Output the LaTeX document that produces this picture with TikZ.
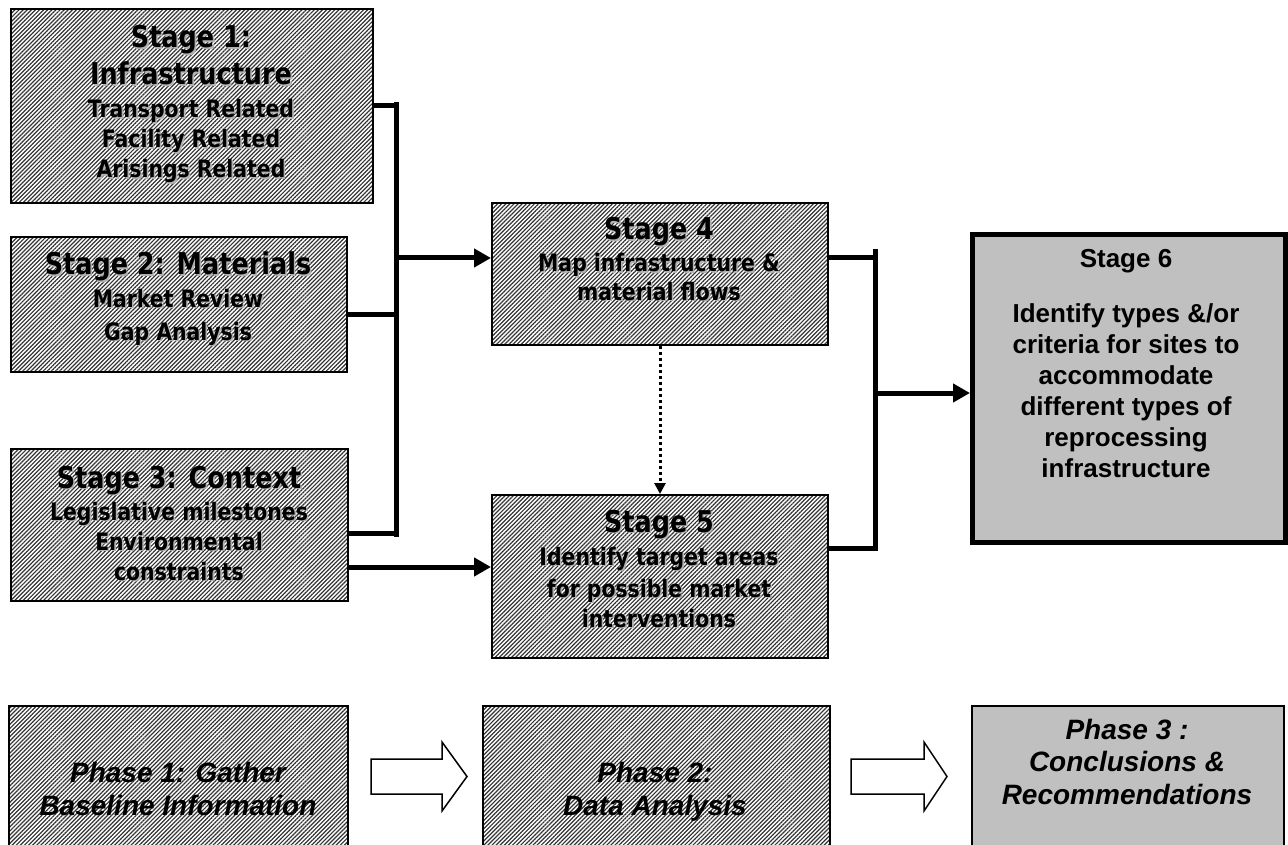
\documentclass[tikz,border=0pt]{standalone}
\usepackage{fontspec}
\setmainfont{Liberation Sans}
\newfontfamily\tah[FakeStretch=0.85]{DejaVu Sans}
\newfontfamily\ari{Liberation Sans}
\usetikzlibrary{patterns.meta,arrows.meta,calc}
\newcommand{\shd}[1]{\leavevmode\rlap{\kern1.6pt\raisebox{-1.6pt}{\color{black!30}#1}}#1}
\tikzset{
  hatchbox/.style={draw=black, line width=2pt, pattern={Lines[angle=45,distance=2.9pt,line width=1.2pt]}, pattern color=black!80, inner sep=0pt},
  graybox/.style={draw=black, line width=5pt, fill={rgb,255:red,192;green,192;blue,192}, inner sep=0pt},
  phasegray/.style={draw=black, line width=1.5pt, fill={rgb,255:red,192;green,192;blue,192}, inner sep=0pt},
  bigt/.style={anchor=base, inner sep=0pt, font=\fontsize{30}{36}\tah\bfseries},
  smt/.style={anchor=base, inner sep=0pt, font=\fontsize{24}{30}\tah\bfseries},
  arit/.style={anchor=base, inner sep=0pt, font=\fontsize{26}{31}\ari\bfseries},
  phaset/.style={anchor=base, inner sep=0pt, font=\fontsize{28}{33}\ari\bfseries\itshape},
  conn/.style={line width=5pt, line cap=butt},
  arr/.style={line width=5pt, -{Triangle[length=17pt,width=18pt]}},
  dotarr/.style={line width=3pt, dash pattern=on 3pt off 3pt, -{Triangle[length=11pt,width=11pt]}},
  hollow/.style={draw=black, line width=1.5pt, fill=white, line join=miter},
}
\begin{document}
\begin{tikzpicture}[x=1pt,y=-1pt]
\useasboundingbox (0,0) rectangle (1288,845);
\clip (0,0) rectangle (1288,845);
\fill[white] (0,0) rectangle (1288,845);

% Stage boxes
\node[hatchbox, anchor=north west, minimum width=362pt, minimum height=194pt] (s1) at (10,8) {};
\node[hatchbox, anchor=north west, minimum width=336pt, minimum height=135pt] (s2) at (10,236) {};
\node[hatchbox, anchor=north west, minimum width=337pt, minimum height=152pt] (s3) at (10,448) {};
\node[hatchbox, anchor=north west, minimum width=336pt, minimum height=142pt] (s4) at (491,202) {};
\node[hatchbox, anchor=north west, minimum width=336pt, minimum height=163pt] (s5) at (491,494) {};
\node[graybox, anchor=north west, minimum width=313pt, minimum height=308pt] (s6) at (970,232) {};

% Stage 1 text
\node[bigt] (s1a) at (191,48) {\shd{Stage 1:}};
\node[bigt] (s1b) at (191,85) {\shd{Infrastructure}};
\node[smt] (s1c) at (191,118) {\shd{Transport Related}};
\node[smt] (s1d) at (191,148) {\shd{Facility Related}};
\node[smt] (s1e) at (191,178) {\shd{Arisings Related}};
% Stage 2 text
\node[bigt] (s2a) at (178,275) {\shd{Stage 2: Materials}};
\node[smt] (s2b) at (178,307) {\shd{Market Review}};
\node[smt] (s2c) at (178,340) {\shd{Gap Analysis}};
% Stage 3 text
\node[bigt] (s3a) at (179,488) {\shd{Stage 3: Context}};
\node[smt] (s3b) at (179,520) {\shd{Legislative milestones}};
\node[smt] (s3c) at (179,550) {\shd{Environmental}};
\node[smt] (s3d) at (179,580) {\shd{constraints}};
% Stage 4 text
\node[bigt] (s4a) at (659,240) {\shd{Stage 4}};
\node[smt] (s4b) at (659,272) {\shd{Map infrastructure \&}};
\node[smt] (s4c) at (659,300) {\shd{material flows}};
% Stage 5 text
\node[bigt] (s5a) at (659,532) {\shd{Stage 5}};
\node[smt] (s5b) at (659,565) {\shd{Identify target areas}};
\node[smt] (s5c) at (659,597) {\shd{for possible market}};
\node[smt] (s5d) at (659,627) {\shd{interventions}};
% Stage 6 text
\node[arit] (s6a) at (1126,268) {Stage 6};
\node[arit] (s6b) at (1126,322) {Identify types \&/or};
\node[arit] (s6c) at (1126,353) {criteria for sites to};
\node[arit] (s6d) at (1126,384) {accommodate};
\node[arit] (s6e) at (1126,415) {different types of};
\node[arit] (s6f) at (1126,446) {reprocessing};
\node[arit] (s6g) at (1126,477) {infrastructure};

% Bus 1
\coordinate (b1top) at (396,102);
\coordinate (b1bot) at (396,537);
\draw[conn] (b1top) -- (b1bot);
\draw[conn] (s1.east) -- (s1.east -| b1top);
\draw[conn] ([yshift=-9.5pt]s2.east) -- ([yshift=-9.5pt]s2.east -| b1top);
\draw[conn] ([yshift=-8pt]s3.east) -- ([yshift=-8pt]s3.east -| b1top);
\draw[arr] (b1top |- 0,258) -- (s4.west |- 0,258);
\draw[arr] ([yshift=-42pt]s3.east) -- ([yshift=-42pt]s3.east -| s5.west);

% Bus 2
\coordinate (b2top) at (875,249);
\coordinate (b2bot) at (875,551);
\draw[conn] (b2top) -- (b2bot);
\draw[conn] (s4.east |- 0,258) -- (b2top |- 0,258);
\draw[conn] (s5.east |- 0,548) -- (b2top |- 0,548);
\draw[arr] (b2top |- 0,393) -- (s6.west |- 0,393);

% Dotted
\draw[dotarr] (s4.south) -- (s5.north);

% Phase row
\node[hatchbox, anchor=north west, minimum width=339pt, minimum height=160pt] (p1) at (8,705) {};
\node[hatchbox, anchor=north west, minimum width=347pt, minimum height=160pt] (p2) at (482,705) {};
\node[phasegray, anchor=north west, minimum width=312pt, minimum height=160pt] (p3) at (971,705) {};
\node[phaset] (p1a) at (178,782) {Phase 1: Gather};
\node[phaset] (p1b) at (178,815) {Baseline Information};
\node[phaset] (p2a) at (655,782) {Phase 2:};
\node[phaset] (p2b) at (655,815) {Data Analysis};
\node[phaset] (p3a) at (1127,739) {Phase 3 :};
\node[phaset] (p3b) at (1127,771) {Conclusions \&};
\node[phaset] (p3c) at (1127,804) {Recommendations};

\draw[hollow] (371,759) -- (442,759) -- (442,742) -- (467,776.5) -- (442,811) -- (442,794) -- (371,794) -- cycle;
\draw[hollow] (851,759) -- (924,759) -- (924,742) -- (947,776.5) -- (924,811) -- (924,794) -- (851,794) -- cycle;
\end{tikzpicture}
\end{document}
